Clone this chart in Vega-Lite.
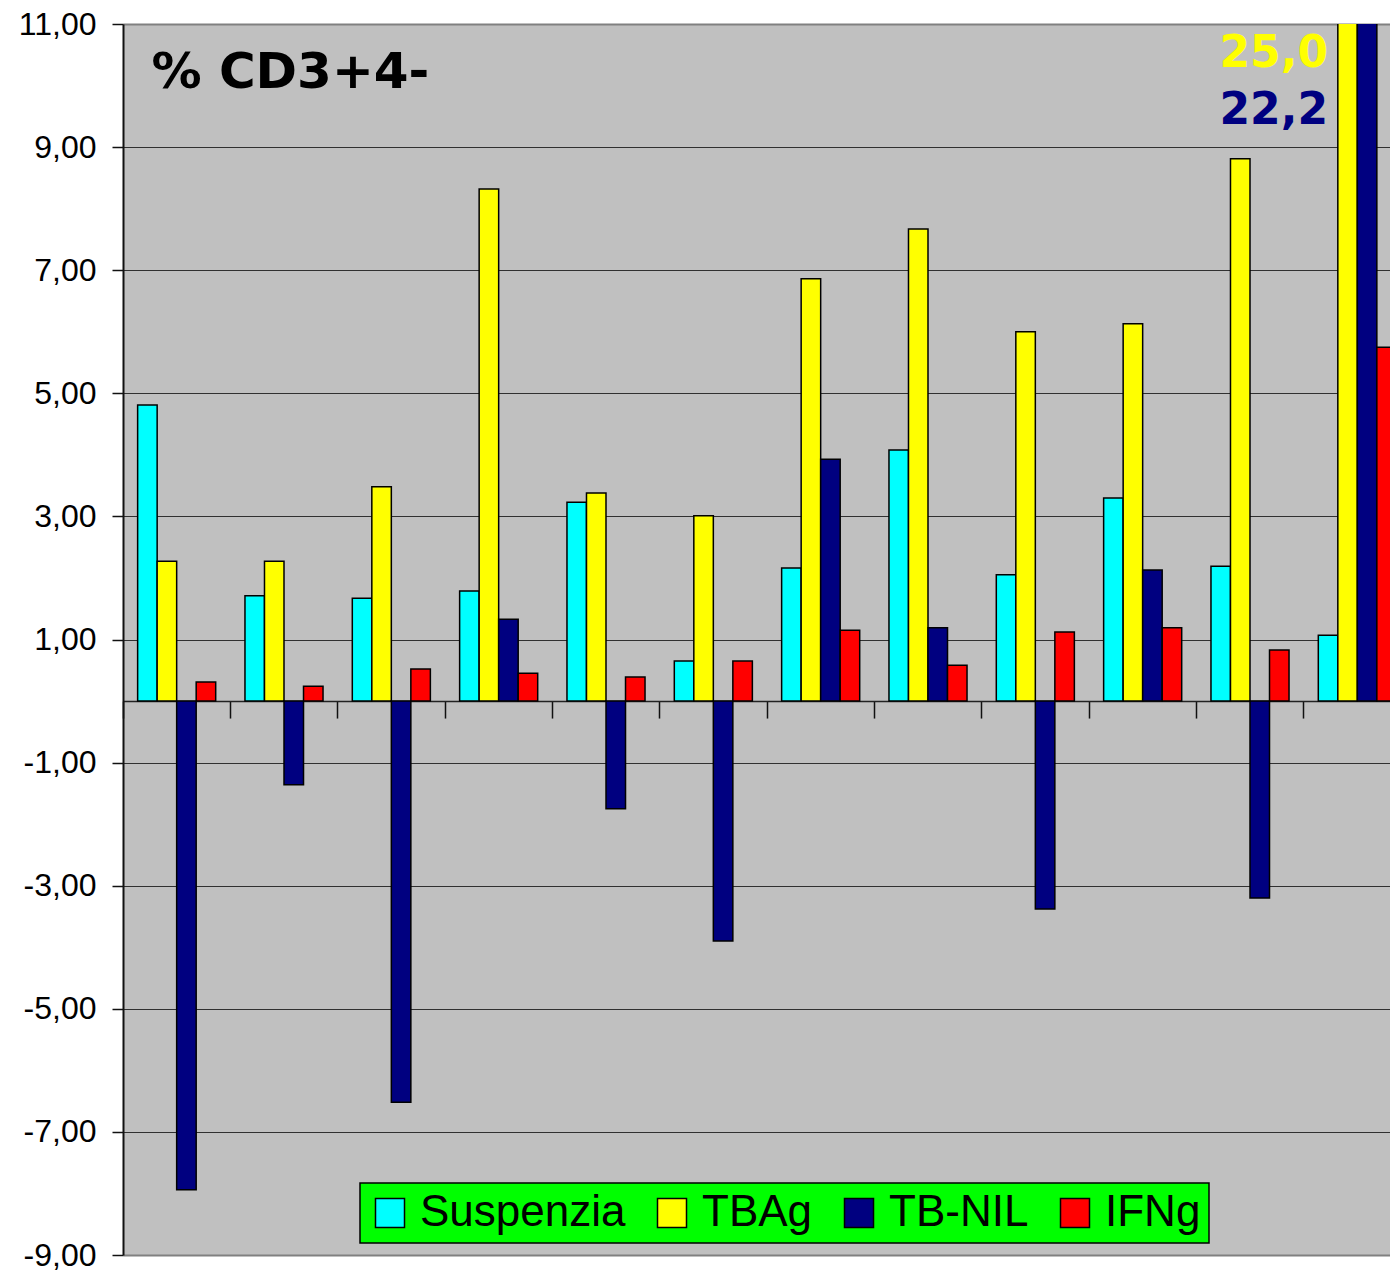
{
  "$schema": "https://vega.github.io/schema/vega-lite/v6.json",
  "width": 1267,
  "height": 1231,
  "autosize": {"type": "none"},
  "padding": {"left": 123, "top": 24, "right": 0, "bottom": 17},
  "background": "white",
  "config": {
    "view": {"fill": "#C0C0C0", "stroke": null},
    "font": "Liberation Sans"
  },
  "datasets": {
    "bars": [
      {"g": "1", "s": "Suspenzia", "v": 4.81}, {"g": "1", "s": "TBAg", "v": 2.27}, {"g": "1", "s": "TB-NIL", "v": -7.94}, {"g": "1", "s": "IFNg", "v": 0.31},
      {"g": "2", "s": "Suspenzia", "v": 1.71}, {"g": "2", "s": "TBAg", "v": 2.27}, {"g": "2", "s": "TB-NIL", "v": -1.36}, {"g": "2", "s": "IFNg", "v": 0.24},
      {"g": "3", "s": "Suspenzia", "v": 1.67}, {"g": "3", "s": "TBAg", "v": 3.48}, {"g": "3", "s": "TB-NIL", "v": -6.52}, {"g": "3", "s": "IFNg", "v": 0.52},
      {"g": "4", "s": "Suspenzia", "v": 1.79}, {"g": "4", "s": "TBAg", "v": 8.32}, {"g": "4", "s": "TB-NIL", "v": 1.33}, {"g": "4", "s": "IFNg", "v": 0.45},
      {"g": "5", "s": "Suspenzia", "v": 3.23}, {"g": "5", "s": "TBAg", "v": 3.38}, {"g": "5", "s": "TB-NIL", "v": -1.75}, {"g": "5", "s": "IFNg", "v": 0.39},
      {"g": "6", "s": "Suspenzia", "v": 0.65}, {"g": "6", "s": "TBAg", "v": 3.01}, {"g": "6", "s": "TB-NIL", "v": -3.9}, {"g": "6", "s": "IFNg", "v": 0.65},
      {"g": "7", "s": "Suspenzia", "v": 2.16}, {"g": "7", "s": "TBAg", "v": 6.86}, {"g": "7", "s": "TB-NIL", "v": 3.93}, {"g": "7", "s": "IFNg", "v": 1.15},
      {"g": "8", "s": "Suspenzia", "v": 4.08}, {"g": "8", "s": "TBAg", "v": 7.67}, {"g": "8", "s": "TB-NIL", "v": 1.19}, {"g": "8", "s": "IFNg", "v": 0.58},
      {"g": "9", "s": "Suspenzia", "v": 2.05}, {"g": "9", "s": "TBAg", "v": 6.0}, {"g": "9", "s": "TB-NIL", "v": -3.38}, {"g": "9", "s": "IFNg", "v": 1.12},
      {"g": "10", "s": "Suspenzia", "v": 3.3}, {"g": "10", "s": "TBAg", "v": 6.13}, {"g": "10", "s": "TB-NIL", "v": 2.13}, {"g": "10", "s": "IFNg", "v": 1.19},
      {"g": "11", "s": "Suspenzia", "v": 2.19}, {"g": "11", "s": "TBAg", "v": 8.81}, {"g": "11", "s": "TB-NIL", "v": -3.2}, {"g": "11", "s": "IFNg", "v": 0.83},
      {"g": "12", "s": "Suspenzia", "v": 1.07}, {"g": "12", "s": "TBAg", "v": 25.0}, {"g": "12", "s": "TB-NIL", "v": 22.2}, {"g": "12", "s": "IFNg", "v": 5.75}
    ],
    "notes": [
      {"g": "12", "s": "Suspenzia", "series": "TBAg", "label": "25,0", "y": 10.3},
      {"g": "12", "s": "Suspenzia", "series": "TB-NIL", "label": "22,2", "y": 9.375}
    ],
    "heading": [
      {"g": "1", "s": "Suspenzia", "label": "% CD3+4-", "y": 9.96}
    ]
  },
  "resolve": {"scale": {"color": "shared"}},
  "layer": [
    {
      "data": {"name": "bars"},
      "mark": {"type": "bar", "clip": true, "stroke": "black", "strokeWidth": 1.5},
      "encoding": {
        "x": {
          "field": "g", "type": "nominal",
          "scale": {"domain": ["1","2","3","4","5","6","7","8","9","10","11","12"], "paddingInner": 0, "paddingOuter": 0, "range": [0, 1288]},
          "axis": {
            "title": null, "labels": false, "offset": -553.95, "orient": "bottom",
            "bandPosition": 0, "domainColor": "#222", "domainWidth": 1.5,
            "tickColor": "#111", "tickSize": 17, "tickWidth": 1.5, "grid": false, "zindex": 0
          }
        },
        "xOffset": {
          "field": "s", "type": "nominal",
          "scale": {"domain": ["Suspenzia", "TBAg", "TB-NIL", "IFNg"], "paddingOuter": 0.75, "paddingInner": 0}
        },
        "y": {
          "field": "v", "type": "quantitative",
          "scale": {"domain": [-9, 11], "nice": false, "zero": false},
          "axis": {
            "title": null,
            "values": [-9, -7, -5, -3, -1, 1, 3, 5, 7, 9, 11],
            "labelExpr": "(datum.value < 0 ? '-' : '') + replace(format(abs(datum.value), '.2f'), '.', ',')",
            "labelFont": "Liberation Sans", "labelFontSize": 32, "labelColor": "black",
            "labelPadding": 16, "tickSize": 11, "tickColor": "#111", "tickWidth": 1.5,
            "domainColor": "#111", "domainWidth": 2,
            "grid": true,
            "gridColor": {"condition": {"test": "datum.value == 11 || datum.value == -9", "value": "#808080"}, "value": "#303030"},
            "gridWidth": {"condition": {"test": "datum.value == 11 || datum.value == -9", "value": 2}, "value": 1},
            "zindex": 0
          }
        },
        "color": {
          "field": "s", "type": "nominal",
          "scale": {"domain": ["Suspenzia", "TBAg", "TB-NIL", "IFNg"], "range": ["#00FFFF", "#FFFF00", "#000080", "#FF0000"]},
          "legend": {
            "title": null, "orient": "none", "direction": "horizontal",
            "legendX": 237, "legendY": 1159,
            "fillColor": "#00FF00", "strokeColor": "black",
            "padding": 8, "symbolType": "square", "symbolSize": 841,
            "symbolStrokeColor": "black", "symbolStrokeWidth": 1.5, "symbolOpacity": 1,
            "labelFont": "Liberation Sans", "labelFontSize": 44, "labelColor": "black",
            "labelOffset": 8, "columnPadding": 24, "labelLimit": 400,
            "encode": {"legend": {"update": {"strokeWidth": {"value": 1.5}}}}
          }
        }
      }
    },
    {
      "data": {"name": "notes"},
      "mark": {"type": "text", "align": "right", "baseline": "alphabetic", "font": "DejaVu Sans", "fontWeight": "bold", "fontSize": 44},
      "encoding": {
        "x": {"field": "g", "type": "nominal"},
        "xOffset": {"field": "s", "type": "nominal"},
        "y": {"field": "y", "type": "quantitative"},
        "text": {"field": "label"},
        "color": {"field": "series", "type": "nominal", "legend": null}
      }
    },
    {
      "data": {"name": "heading"},
      "mark": {"type": "text", "align": "left", "baseline": "alphabetic", "dx": 4, "font": "DejaVu Sans", "fontWeight": "bold", "fontSize": 50, "color": "black"},
      "encoding": {
        "x": {"field": "g", "type": "nominal"},
        "xOffset": {"field": "s", "type": "nominal"},
        "y": {"field": "y", "type": "quantitative"},
        "text": {"field": "label"}
      }
    }
  ]
}
